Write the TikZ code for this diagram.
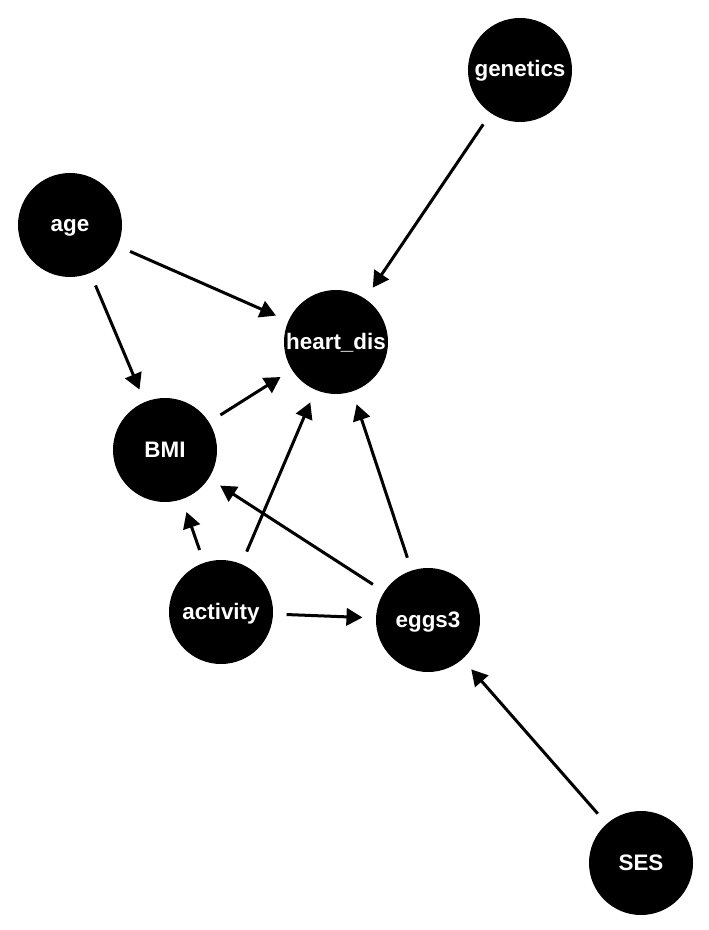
\documentclass[tikz,border=0pt]{standalone}
\usepackage{fontspec}
\setmainfont{Liberation Sans}
\usepackage{tikz}
\usetikzlibrary{arrows.meta}

\begin{document}
\begin{tikzpicture}[x=0.75pt,y=-0.75pt,
	var/.style={draw=none,circle,fill=black,minimum size=78pt,inner sep=0pt,
		text=white,font=\fontsize{16.8}{18}\selectfont\bfseries,
		text height=1.05em,text depth=0pt},
	edge/.style={line width=2.25pt,shorten <=10pt,shorten >=10pt,
		-{Triangle[length=12pt,width=13pt]}}]
	\useasboundingbox (0,0) rectangle (708,930);
	\node[var] (genetics) at (520, 70) {genetics};
	\node[var] (age) at (70, 225) {age};
	\node[var] (heart) at (336, 342) {heart\_dis};
	\node[var] (BMI) at (165, 450) {BMI};
	\node[var] (activity) at (221, 612) {activity};
	\node[var] (eggs) at (428, 620) {eggs3};
	\node[var] (SES) at (641, 863) {SES};
	\foreach \a/\b in {age/heart,age/BMI,genetics/heart,BMI/heart,activity/BMI,
		activity/heart,activity/eggs,eggs/BMI,eggs/heart,SES/eggs}{
		\draw[edge] (\a) -- (\b);
	}
\end{tikzpicture}
\end{document}
